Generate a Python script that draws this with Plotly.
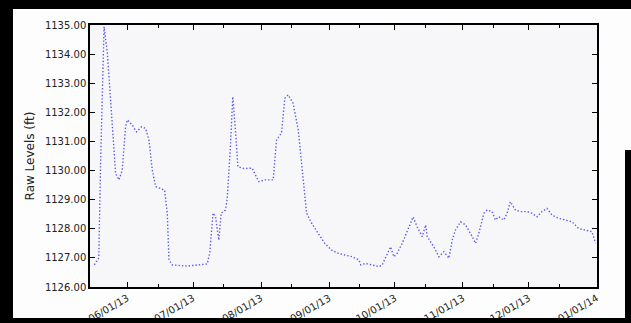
import plotly.graph_objects as go

# ---- data ----
dates = [
    "2013-05-17", "2013-05-19", "2013-05-19 20:00", "2013-05-21 10:00", "2013-05-22 22:00",
    "2013-05-24 10:00", "2013-05-26", "2013-05-26 16:00", "2013-05-28 05:00", "2013-05-29 17:00",
    "2013-05-31 05:00", "2013-06-01", "2013-06-03 07:00", "2013-06-05 05:00", "2013-06-07 10:00",
    "2013-06-09 08:00", "2013-06-10 21:00", "2013-06-12 09:00", "2013-06-13 21:00", "2013-06-16 04:00",
    "2013-06-18", "2013-06-19 05:00", "2013-06-20", "2013-06-21 12:00", "2013-06-28 07:00",
    "2013-07-07 10:00", "2013-07-08 14:00", "2013-07-10 02:00", "2013-07-11 05:00", "2013-07-12 17:00",
    "2013-07-13 19:00", "2013-07-15 17:00", "2013-07-16 12:00", "2013-07-18", "2013-07-19 02:00",
    "2013-07-20 07:00", "2013-07-21 10:00", "2013-07-24 02:00", "2013-07-27 22:00", "2013-07-30 22:00",
    "2013-08-02 17:00", "2013-08-06 12:00", "2013-08-08", "2013-08-10 07:00", "2013-08-11 19:00",
    "2013-08-13 07:00", "2013-08-15 14:00", "2013-08-17 22:00", "2013-08-20 05:00", "2013-08-21 17:00",
    "2013-08-24", "2013-08-27", "2013-08-30", "2013-09-02 02:00", "2013-09-05 02:00",
    "2013-09-08 02:00", "2013-09-11 12:00", "2013-09-14 14:00", "2013-09-15 10:00", "2013-09-17 14:00",
    "2013-09-20 17:00", "2013-09-23 17:00", "2013-09-25 05:00", "2013-09-26 19:00", "2013-09-29",
    "2013-09-30 12:00", "2013-10-02", "2013-10-04 07:00", "2013-10-07 10:00", "2013-10-09 07:00",
    "2013-10-11 02:00", "2013-10-13 10:00", "2013-10-15", "2013-10-15 17:00", "2013-10-18 17:00",
    "2013-10-21", "2013-10-23 07:00", "2013-10-25 14:00", "2013-10-27 02:00", "2013-10-28 14:00",
    "2013-10-30 22:00", "2013-11-02 05:00", "2013-11-05 05:00", "2013-11-06 17:00", "2013-11-08 05:00",
    "2013-11-10 12:00", "2013-11-12", "2013-11-14 07:00", "2013-11-15 19:00", "2013-11-17 07:00",
    "2013-11-19 14:00", "2013-11-21 02:00", "2013-11-22 14:00", "2013-11-24 22:00", "2013-11-27 05:00",
    "2013-11-30 05:00", "2013-12-02 12:00", "2013-12-04 19:00", "2013-12-07", "2013-12-09 07:00",
    "2013-12-11 14:00", "2013-12-14 14:00", "2013-12-17 17:00", "2013-12-20 17:00", "2013-12-23 17:00",
    "2013-12-26 19:00", "2013-12-29 19:00", "2013-12-31 12:00",
]
levels = [
    1126.76, 1127.00, 1130.26, 1134.94, 1134.04,
    1132.30, 1130.36, 1129.90, 1129.68, 1130.02,
    1131.50, 1131.74, 1131.56, 1131.33, 1131.50,
    1131.45, 1131.05, 1130.02, 1129.45, 1129.39,
    1129.33, 1128.54, 1126.93, 1126.76, 1126.72,
    1126.79, 1127.17, 1128.54, 1128.41, 1127.61,
    1128.54, 1128.64, 1128.99, 1130.82, 1132.54,
    1131.39, 1130.13, 1130.07, 1130.08, 1129.62,
    1129.68, 1129.68, 1131.05, 1131.29, 1132.48,
    1132.60, 1132.31, 1131.39, 1129.68, 1128.54,
    1128.19, 1127.84, 1127.50, 1127.27, 1127.16,
    1127.10, 1127.04, 1126.93, 1126.76, 1126.81,
    1126.76, 1126.70, 1126.76, 1127.04, 1127.38,
    1127.04, 1127.16, 1127.50, 1128.07, 1128.41,
    1128.07, 1127.73, 1128.13, 1127.73, 1127.38,
    1127.04, 1127.21, 1126.99, 1127.61, 1127.96,
    1128.24, 1128.13, 1127.73, 1127.50, 1127.84,
    1128.53, 1128.64, 1128.59, 1128.30, 1128.41,
    1128.30, 1128.53, 1128.93, 1128.64, 1128.59,
    1128.59, 1128.53, 1128.41, 1128.59, 1128.70,
    1128.47, 1128.36, 1128.30, 1128.24, 1128.01,
    1127.96, 1127.90, 1127.50,
]
y_ticks = [1126, 1127, 1128, 1129, 1130, 1131, 1132, 1133, 1134, 1135]
x_range = ["2013-05-15", "2014-01-01 02:00"]
y_range = [1126, 1135]
y_title = "Raw Levels (ft)"

# ---- layout geometry (pixels) ----
W, H = 631, 323
ML, MR, MT, MB = 90, 34, 25, 36
PW, PH = W - ML - MR, H - MT - MB


def px_x(p):
    return (p - ML) / PW


def px_y(p):
    return (H - MB - p) / PH


fig = go.Figure()
fig.add_trace(go.Scatter(
    x=dates, y=levels, mode="lines",
    line=dict(color="rgb(90,90,240)", width=1.4, dash="1.4px,2px"),
    showlegend=False,
))

axis_common = dict(
    showline=True, linecolor="black", linewidth=1.5, mirror="ticks",
    ticks="inside", ticklen=5, tickwidth=1, tickcolor="black",
    showgrid=False, zeroline=False, automargin=False,
    tickfont=dict(family="DejaVu Sans", size=10, color="#222"),
)

fig.update_xaxes(
    type="date", range=x_range, dtick="M1", tick0="2013-06-01",
    tickformat="%m/%d/%y", tickangle=-30,
    minor=dict(ticks="inside", ticklen=3, dtick="M1", tick0="2013-05-15", tickcolor="black"),
    **axis_common,
)
fig.update_yaxes(
    range=y_range, tickvals=y_ticks, tickformat=".2f",
    title=dict(text=y_title, font=dict(family="DejaVu Sans", size=12, color="#222"), standoff=8),
    **axis_common,
)

# black photo frame around the picture (kept inside the figure bounds)
frame = [
    (0, 0, W, 9),        # top
    (0, 0, 13, H),       # left
    (0, 318, W, H),      # bottom
    (625, 150, W, H),    # right (lower part)
]
for x0, y0, x1, y1 in frame:
    fig.add_shape(type="rect", xref="paper", yref="paper",
                  x0=px_x(x0), x1=px_x(x1), y0=px_y(y1), y1=px_y(y0),
                  fillcolor="black", line=dict(width=0), layer="above")

fig.update_layout(
    width=W, height=H, autosize=False,
    margin=dict(l=ML, r=MR, t=MT, b=MB),
    paper_bgcolor="#fdfdfd", plot_bgcolor="#f7f7fa",
    font=dict(family="DejaVu Sans"),
)

fig.write_html("out.html", config={"displayModeBar": False},
               post_script="document.body.style.margin='0';")
